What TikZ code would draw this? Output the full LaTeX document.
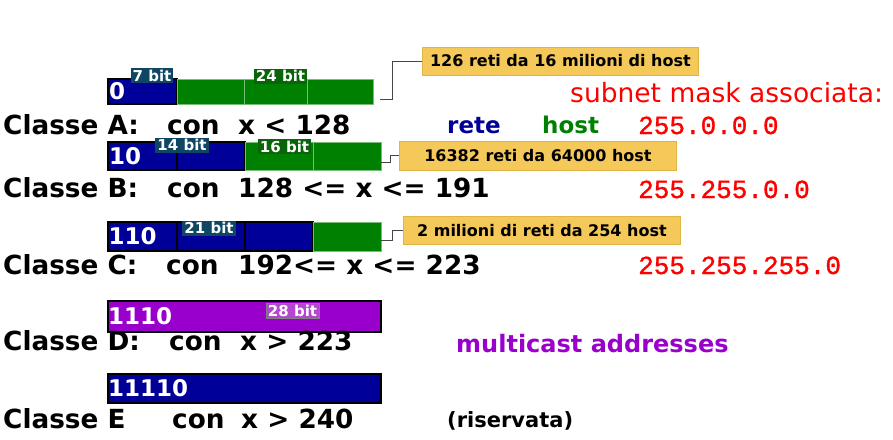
\documentclass[tikz,border=0pt]{standalone}
\usepackage{fontspec}
\setmainfont{DejaVu Sans}
\newfontfamily\maskfont[FakeBold=1.2]{Liberation Mono}
\usetikzlibrary{positioning}

\definecolor{netblue}{RGB}{0,0,153}
\definecolor{hostgreen}{RGB}{0,128,0}
\definecolor{hostedge}{RGB}{120,190,120}
\definecolor{mcpurple}{RGB}{153,0,204}
\definecolor{bitteal}{RGB}{14,70,100}
\definecolor{bitgreen}{RGB}{10,100,10}
\definecolor{bitpurple}{RGB}{180,70,210}
\definecolor{notefill}{RGB}{245,200,90}
\definecolor{noteline}{RGB}{225,180,70}
\definecolor{linkgray}{RGB}{70,70,70}

\newcommand{\fsz}[1]{\fontsize{#1}{#1}\selectfont}

\begin{document}
\begin{tikzpicture}[
        x=1pt, y=-1pt,
        node distance=0pt, % segments touch each other
        netseg/.style={draw=black, line width=1.2pt, fill=netblue, inner sep=0pt, outer sep=0pt},
        hostseg/.style={draw=hostedge, line width=0.8pt, fill=hostgreen, inner sep=0pt, outer sep=0pt},
        bitval/.style={text=white, font=\bfseries\fsz{23}, inner sep=0pt, anchor=west},
        bitlbl/.style={fill=bitteal, text=white, font=\bfseries\fsz{15}, inner xsep=2pt, inner ysep=0pt, minimum height=15pt},
        note/.style={fill=notefill, draw=noteline, line width=0.8pt, font=\bfseries\fsz{16}, minimum width=276pt, minimum height=28pt, anchor=west},
        classtxt/.style={font=\bfseries\fsz{26.3}, inner sep=0pt, anchor=base west},
        mask/.style={text=red, font=\maskfont\fsz{26}, inner sep=0pt, anchor=base west},
        link/.style={draw=linkgray, line width=1pt}
      ]
      \useasboundingbox (0,0) rectangle (893,439);

      % Bars
      \node (a1) [netseg, minimum width=69pt, minimum height=25pt] at (142.5,91.5) {};
      \node (a2) [hostseg, minimum width=67pt, minimum height=25pt, right=of a1] {};
      \node (a3) [hostseg, minimum width=63pt, minimum height=25pt, right=of a2] {};
      \node (a4) [hostseg, minimum width=66pt, minimum height=25pt, right=of a3] {};

      \node (b1) [netseg, minimum width=69pt, minimum height=28pt] at (142.5,156) {};
      \node (b2) [netseg, minimum width=68pt, minimum height=28pt, right=of b1] {};
      \node (b3) [hostseg, minimum width=68pt, minimum height=28pt, right=of b2] {};
      \node (b4) [hostseg, minimum width=68pt, minimum height=28pt, right=of b3] {};

      \node (c1) [netseg, minimum width=69pt, minimum height=29pt] at (142.5,236.5) {};
      \node (c2) [netseg, minimum width=68pt, minimum height=29pt, right=of c1] {};
      \node (c3) [netseg, minimum width=68pt, minimum height=29pt, right=of c2] {};
      \node (c4) [hostseg, minimum width=68pt, minimum height=29pt, right=of c3] {};

      \node (d1) [netseg, fill=mcpurple, minimum width=273pt, minimum height=31pt] at (244.5,316.5) {};
      \node (e1) [netseg, minimum width=273pt, minimum height=29pt] at (244.5,388.5) {};

      % Values inside the bars
      \node (va) [bitval] at ([xshift=1pt]a1.west) {0};
      \node (vb) [bitval] at ([xshift=1pt]b1.west) {10};
      \node (vc) [bitval] at ([xshift=0.5pt]c1.west) {110};
      \node (vd) [bitval] at (d1.west) {1110};
      \node (ve) [bitval] at (e1.west) {11110};

      % Bit counts
      \node (ka) [bitlbl] at (152,75.5) {7 bit};
      \node (kah) [bitlbl, fill=bitgreen] at (280.5,76) {24 bit};
      \node (kb) [bitlbl] at (182,145) {14 bit};
      \node (kbh) [bitlbl, fill=bitgreen] at (284.5,146.5) {16 bit};
      \node (kc) [bitlbl] at (209,228) {21 bit};
      \node (kd) [bitlbl, fill=bitpurple, draw=gray, line width=0.6pt] at (292.5,311) {28 bit};

      % Notes
      \node (nA) [note] at (422,61) {126 reti da 16 milioni di host};
      \node (nB) [note, minimum width=277pt, minimum height=29pt] at (399,155.5) {16382 reti da 64000 host};
      \node (nC) [note, minimum width=277pt] at (403,230.5) {2 milioni di reti da 254 host};

      % Class lines
      \node (clA) [classtxt] at (3,134) {Classe A:};
      \node (coA) [classtxt] at (167,134) {con};
      \node (exA) [classtxt] at (238,134) {x < 128};
      \node (clB) [classtxt] at (3,197) {Classe B:};
      \node (coB) [classtxt] at (167,197) {con};
      \node (exB) [classtxt] at (238,197) {128 <= x <= 191};
      \node (clC) [classtxt] at (3,274) {Classe C:};
      \node (coC) [classtxt] at (166,274) {con};
      \node (exC) [classtxt] at (238,274) {192<= x <= 223};
      \node (clD) [classtxt] at (3,350) {Classe D:};
      \node (coD) [classtxt] at (169,350) {con};
      \node (exD) [classtxt] at (240,350) {x > 223};
      \node (clE) [classtxt] at (3,428) {Classe E};
      \node (coE) [classtxt] at (172,428) {con};
      \node (exE) [classtxt] at (241,428) {x > 240};

      % Right side
      \node (sub) [classtxt, font=\fsz{26.5}, text=red] at (570,102) {subnet mask associata:};
      \node (rete) [classtxt, font=\bfseries\fsz{23}, text=netblue] at (447,133) {rete};
      \node (host) [classtxt, font=\bfseries\fsz{23}, text=hostgreen] at (542,133) {host};
      \node (mA) [mask] at (638,134) {255.0.0.0};
      \node (mB) [mask] at (638,198) {255.255.0.0};
      \node (mC) [mask] at (638,274) {255.255.255.0};
      \node (mcast) [classtxt, font=\bfseries\fsz{24}, text=mcpurple] at (456,352) {multicast addresses};
      \node (ris) [classtxt, font=\bfseries\fsz{21}] at (447,427) {(riservata)};

      % Connectors
      \coordinate (tA) at ([xshift=7pt,yshift=-8pt]a4.east);
      \coordinate (tB) at ([yshift=-6pt]b4.east);
      \coordinate (tC) at ([yshift=-4pt]c4.east);
      \draw[link] (tA) -- ++(12,0) |- (nA.west);
      \draw[link] (tB) -- ++(9,0) |- (nB.west);
      \draw[link] (tC) -- ++(11,0) |- (nC.west);

    \end{tikzpicture}
\end{document}
